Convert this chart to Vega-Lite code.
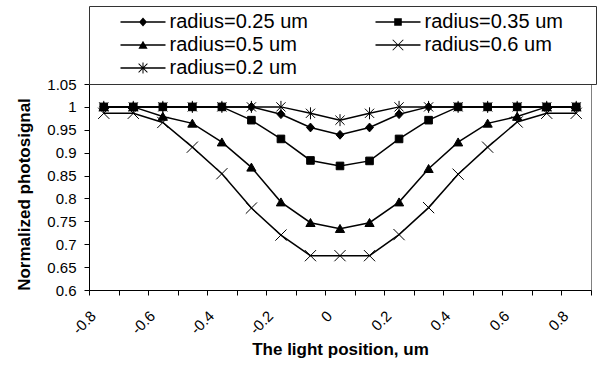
{
  "$schema": "https://vega.github.io/schema/vega-lite/v6.json",
  "width": 502,
  "height": 206,
  "autosize": {"type": "none"},
  "padding": {"left": 89, "top": 84, "right": 7, "bottom": 75},
  "background": "white",
  "config": {
    "font": "Liberation Sans",
    "view": {"stroke": "#808080", "strokeWidth": 1},
    "axis": {"labelColor": "black", "titleColor": "black", "domainColor": "black", "tickColor": "black", "grid": false, "labelFont": "Liberation Sans", "titleFont": "Liberation Sans"}
  },
  "data": {
    "values": [
      {"s": "radius=0.25 um", "x": -0.8, "y": 1}, {"s": "radius=0.25 um", "x": -0.7, "y": 1}, {"s": "radius=0.25 um", "x": -0.6, "y": 1}, {"s": "radius=0.25 um", "x": -0.5, "y": 1}, {"s": "radius=0.25 um", "x": -0.4, "y": 1}, {"s": "radius=0.25 um", "x": -0.3, "y": 1}, {"s": "radius=0.25 um", "x": -0.2, "y": 0.984}, {"s": "radius=0.25 um", "x": -0.1, "y": 0.955}, {"s": "radius=0.25 um", "x": 0, "y": 0.939}, {"s": "radius=0.25 um", "x": 0.1, "y": 0.955}, {"s": "radius=0.25 um", "x": 0.2, "y": 0.984}, {"s": "radius=0.25 um", "x": 0.3, "y": 1}, {"s": "radius=0.25 um", "x": 0.4, "y": 1}, {"s": "radius=0.25 um", "x": 0.5, "y": 1}, {"s": "radius=0.25 um", "x": 0.6, "y": 1}, {"s": "radius=0.25 um", "x": 0.7, "y": 1}, {"s": "radius=0.25 um", "x": 0.8, "y": 1},
      {"s": "radius=0.35 um", "x": -0.8, "y": 1}, {"s": "radius=0.35 um", "x": -0.7, "y": 1}, {"s": "radius=0.35 um", "x": -0.6, "y": 1}, {"s": "radius=0.35 um", "x": -0.5, "y": 1}, {"s": "radius=0.35 um", "x": -0.4, "y": 1}, {"s": "radius=0.35 um", "x": -0.3, "y": 0.971}, {"s": "radius=0.35 um", "x": -0.2, "y": 0.93}, {"s": "radius=0.35 um", "x": -0.1, "y": 0.883}, {"s": "radius=0.35 um", "x": 0, "y": 0.871}, {"s": "radius=0.35 um", "x": 0.1, "y": 0.882}, {"s": "radius=0.35 um", "x": 0.2, "y": 0.93}, {"s": "radius=0.35 um", "x": 0.3, "y": 0.971}, {"s": "radius=0.35 um", "x": 0.4, "y": 1}, {"s": "radius=0.35 um", "x": 0.5, "y": 1}, {"s": "radius=0.35 um", "x": 0.6, "y": 1}, {"s": "radius=0.35 um", "x": 0.7, "y": 1}, {"s": "radius=0.35 um", "x": 0.8, "y": 1},
      {"s": "radius=0.5 um", "x": -0.8, "y": 1}, {"s": "radius=0.5 um", "x": -0.7, "y": 1}, {"s": "radius=0.5 um", "x": -0.6, "y": 0.979}, {"s": "radius=0.5 um", "x": -0.5, "y": 0.964}, {"s": "radius=0.5 um", "x": -0.4, "y": 0.923}, {"s": "radius=0.5 um", "x": -0.3, "y": 0.868}, {"s": "radius=0.5 um", "x": -0.2, "y": 0.792}, {"s": "radius=0.5 um", "x": -0.1, "y": 0.747}, {"s": "radius=0.5 um", "x": 0, "y": 0.734}, {"s": "radius=0.5 um", "x": 0.1, "y": 0.747}, {"s": "radius=0.5 um", "x": 0.2, "y": 0.792}, {"s": "radius=0.5 um", "x": 0.3, "y": 0.865}, {"s": "radius=0.5 um", "x": 0.4, "y": 0.923}, {"s": "radius=0.5 um", "x": 0.5, "y": 0.964}, {"s": "radius=0.5 um", "x": 0.6, "y": 0.979}, {"s": "radius=0.5 um", "x": 0.7, "y": 1}, {"s": "radius=0.5 um", "x": 0.8, "y": 1},
      {"s": "radius=0.6 um", "x": -0.8, "y": 0.986}, {"s": "radius=0.6 um", "x": -0.7, "y": 0.986}, {"s": "radius=0.6 um", "x": -0.6, "y": 0.966}, {"s": "radius=0.6 um", "x": -0.5, "y": 0.912}, {"s": "radius=0.6 um", "x": -0.4, "y": 0.854}, {"s": "radius=0.6 um", "x": -0.3, "y": 0.779}, {"s": "radius=0.6 um", "x": -0.2, "y": 0.72}, {"s": "radius=0.6 um", "x": -0.1, "y": 0.675}, {"s": "radius=0.6 um", "x": 0, "y": 0.675}, {"s": "radius=0.6 um", "x": 0.1, "y": 0.675}, {"s": "radius=0.6 um", "x": 0.2, "y": 0.721}, {"s": "radius=0.6 um", "x": 0.3, "y": 0.78}, {"s": "radius=0.6 um", "x": 0.4, "y": 0.853}, {"s": "radius=0.6 um", "x": 0.5, "y": 0.912}, {"s": "radius=0.6 um", "x": 0.6, "y": 0.967}, {"s": "radius=0.6 um", "x": 0.7, "y": 0.986}, {"s": "radius=0.6 um", "x": 0.8, "y": 0.986},
      {"s": "radius=0.2 um", "x": -0.8, "y": 1}, {"s": "radius=0.2 um", "x": -0.7, "y": 1}, {"s": "radius=0.2 um", "x": -0.6, "y": 1}, {"s": "radius=0.2 um", "x": -0.5, "y": 1}, {"s": "radius=0.2 um", "x": -0.4, "y": 1}, {"s": "radius=0.2 um", "x": -0.3, "y": 1}, {"s": "radius=0.2 um", "x": -0.2, "y": 1}, {"s": "radius=0.2 um", "x": -0.1, "y": 0.986}, {"s": "radius=0.2 um", "x": 0, "y": 0.971}, {"s": "radius=0.2 um", "x": 0.1, "y": 0.986}, {"s": "radius=0.2 um", "x": 0.2, "y": 1}, {"s": "radius=0.2 um", "x": 0.3, "y": 1}, {"s": "radius=0.2 um", "x": 0.4, "y": 1}, {"s": "radius=0.2 um", "x": 0.5, "y": 1}, {"s": "radius=0.2 um", "x": 0.6, "y": 1}, {"s": "radius=0.2 um", "x": 0.7, "y": 1}, {"s": "radius=0.2 um", "x": 0.8, "y": 1}
    ]
  },
  "encoding": {
    "x": {
      "field": "x", "type": "quantitative",
      "scale": {"domain": [-0.85, 0.85], "nice": false, "zero": false},
      "axis": {
        "values": [-0.85, -0.75, -0.65, -0.55, -0.45, -0.35, -0.25, -0.15, -0.05, 0.05, 0.15, 0.25, 0.35, 0.45, 0.55, 0.65, 0.75, 0.85],
        "labelExpr": "round(datum.value*10+0.5) % 2 == 0 ? ((round(datum.value*10+0.5) < 0 ? '-' : '') + format(abs(round(datum.value*10+0.5)/10), '~g')) : ''",
        "labelAngle": -45, "labelAlign": "right", "labelBaseline": "top", "labelOffset": -1, "labelPadding": 13, "labelFontSize": 15, "labelOverlap": false, "labelFlush": false, "labelBound": false,
        "tickSize": 5, "title": "The light position, um", "titleFontSize": 17, "titleFontWeight": "bold", "titlePadding": 5
      }
    },
    "y": {
      "field": "y", "type": "quantitative",
      "scale": {"domain": [0.6, 1.05], "nice": false, "zero": false},
      "axis": {
        "values": [0.6, 0.65, 0.7, 0.75, 0.8, 0.85, 0.9, 0.95, 1, 1.05],
        "labelExpr": "format(datum.value, '.2~f')",
        "labelFontSize": 15, "labelPadding": 8, "tickSize": 5, "labelFlush": false,
        "title": "Normalized photosignal", "titleFontSize": 17, "titleFontWeight": "bold", "titlePadding": 13, "titleY": 110
      }
    }
  },
  "layer": [
    {
      "mark": {"type": "line", "color": "black", "strokeWidth": 1.5},
      "encoding": {"detail": {"field": "s"}}
    },
    {
      "mark": {"type": "point", "filled": true, "fill": "black", "stroke": "black", "strokeWidth": 1, "opacity": 1, "size": 64},
      "encoding": {
        "shape": {
          "field": "s", "type": "nominal",
          "scale": {
            "domain": ["radius=0.25 um", "radius=0.35 um", "radius=0.5 um", "radius=0.6 um", "radius=0.2 um"],
            "range": [
              "M0,-1.1L1,0L0,1.1L-1,0Z",
              "M-0.95,-0.95H0.95V0.95H-0.95Z",
              "M0,-1.05L1.15,0.95L-1.15,0.95Z",
              "M-1.4,-1.4L1.4,1.4M-1.4,1.4L1.4,-1.4",
              "M-1.15,-1.15L1.15,1.15M-1.15,1.15L1.15,-1.15M0,-1.5L0,1.5"
            ]
          },
          "legend": null
        }
      }
    },
    {
      "mark": {"type": "point", "filled": true, "fill": "black", "opacity": 0},
      "encoding": {
        "shape": {
          "field": "s", "type": "nominal",
          "scale": {
            "domain": ["radius=0.25 um", "radius=0.5 um", "radius=0.2 um", "radius=0.35 um", "radius=0.6 um"],
            "range": [
              "M-2.25,-0.07H2.25V0.07H-2.25Z M0,-0.44L0.4,0L0,0.44L-0.4,0Z",
              "M-2.25,-0.07H2.25V0.07H-2.25Z M0,-0.42L0.46,0.38L-0.46,0.38Z",
              "M-2.25,-0.07H2.25V0.07H-2.25Z M-0.41,-0.47L0.47,0.41L0.41,0.47L-0.47,-0.41Z M-0.47,0.41L0.41,-0.47L0.47,-0.41L-0.41,0.47Z M-0.05,-0.56H0.05V0.56H-0.05Z",
              "M-2.25,-0.07H2.25V0.07H-2.25Z M-0.38,-0.38H0.38V0.38H-0.38Z",
              "M-2.25,-0.07H2.25V0.07H-2.25Z M-0.5,-0.56L0.56,0.5L0.5,0.56L-0.56,-0.5Z M-0.56,0.5L0.5,-0.56L0.56,-0.5L-0.5,0.56Z"
            ]
          },
          "legend": {
            "title": "\u00a0", "titleOrient": "right", "titlePadding": 27, "titleFontSize": 11,
            "orient": "none", "legendX": 0, "legendY": -78, "columns": 2,
            "padding": 6, "strokeColor": "#333333", "fillColor": "white",
            "symbolSize": 400, "symbolOffset": 38, "labelOffset": 16.5, "columnPadding": 42, "rowPadding": 3,
            "symbolFillColor": "black", "symbolStrokeWidth": 0, "symbolOpacity": 1,
            "labelFont": "Liberation Sans", "labelFontSize": 20, "labelColor": "black", "labelLimit": 400
          }
        }
      }
    }
  ],
  "resolve": {"scale": {"shape": "independent"}}
}
